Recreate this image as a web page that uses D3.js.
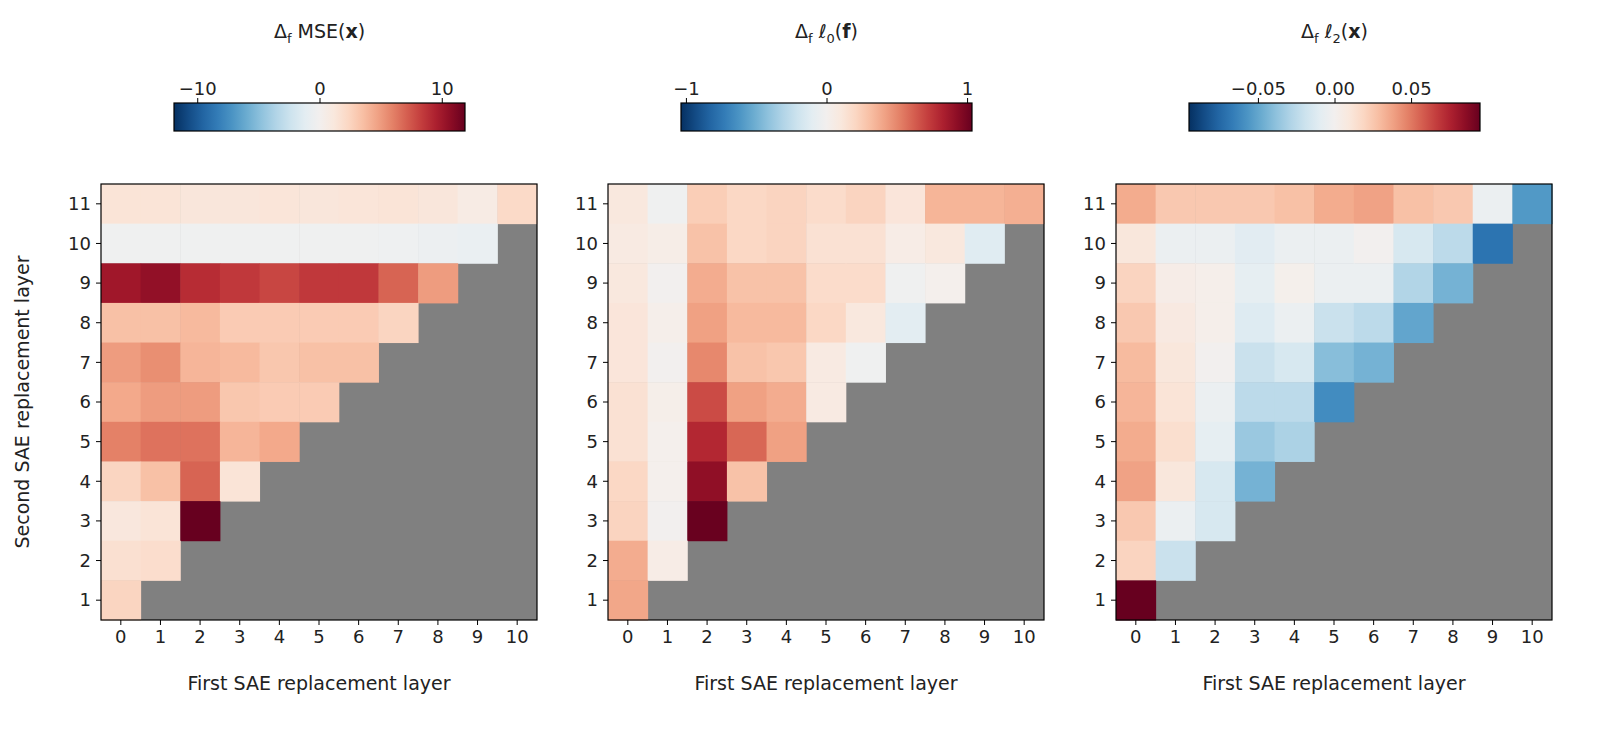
<!DOCTYPE html>
<html><head><meta charset="utf-8">
<script src="https://cdn.jsdelivr.net/npm/d3@7"></script>
<style>body{margin:0;background:#fff}text{font-family:"DejaVu Sans",sans-serif;fill:#222}</style>
</head><body><svg id="c" width="1600" height="729"></svg>
<script>
// rows listed from second layer 11 down to 1; entry i = first layer i
var firstLayers = [0,1,2,3,4,5,6,7,8,9,10];
var secondLayers = [1,2,3,4,5,6,7,8,9,10,11];

var mseRows = [
  [1.5,1.5,1.3,1.3,1.4,1.3,1.4,1.5,1.3,0.8,2.2],
  [-0.3,-0.3,-0.3,-0.3,-0.3,-0.3,-0.3,-0.4,-0.5,-0.7],
  [10,10.5,9,8.5,8,8.5,8.5,7,5],
  [3.5,3.5,3.8,3,3,3,3,2.5],
  [5,5.5,4,3.8,3.2,3.5,3.5],
  [4.5,5,5,3.2,3,3],
  [6,6.5,6.5,4,4.5],
  [2.5,3.5,7,1.5],
  [1.2,1.5,12],
  [1.8,2],
  [2.5]
];
var l0Rows = [
  [0.1,-0.02,0.25,0.2,0.22,0.18,0.22,0.12,0.35,0.35,0.37],
  [0.08,0.05,0.3,0.2,0.22,0.15,0.15,0.06,0.1,-0.12],
  [0.1,0.0,0.38,0.3,0.3,0.18,0.18,-0.02,0.02],
  [0.12,0.03,0.42,0.33,0.33,0.2,0.1,-0.1],
  [0.12,0.0,0.5,0.3,0.28,0.08,-0.02],
  [0.15,0.04,0.68,0.42,0.38,0.08],
  [0.15,0.02,0.8,0.6,0.42],
  [0.2,0.02,0.92,0.3],
  [0.22,0.0,1.03],
  [0.38,0.06],
  [0.4]
];
var l2Rows = [
  [0.035,0.025,0.025,0.025,0.028,0.035,0.038,0.028,0.025,-0.005,-0.055],
  [0.01,-0.005,-0.005,-0.01,-0.005,-0.005,0.0,-0.015,-0.025,-0.07],
  [0.02,0.005,0.003,-0.008,0.002,-0.005,-0.005,-0.028,-0.045],
  [0.025,0.008,0.003,-0.012,-0.005,-0.02,-0.025,-0.05],
  [0.03,0.01,0.0,-0.02,-0.015,-0.04,-0.045],
  [0.032,0.012,-0.005,-0.025,-0.025,-0.06],
  [0.035,0.015,-0.008,-0.035,-0.03],
  [0.038,0.01,-0.015,-0.045],
  [0.025,-0.005,-0.015],
  [0.02,-0.02],
  [0.095]
];

var panels = [
  {x0:101, rows:mseRows, vmax:11.9, ticks:[-10,0,10], fmt:d3.format("d")},
  {x0:608, rows:l0Rows, vmax:1.035, ticks:[-1,0,1], fmt:d3.format("d")},
  {x0:1116, rows:l2Rows, vmax:0.095, ticks:[-0.05,0,0.05], fmt:d3.format(".2f")}
];

var svg = d3.select("#c");
var size = 436, topY = 184;
var cmap = function(t){ return d3.interpolateRdBu(1 - t); };

panels.forEach(function(p, pi) {
  var g = svg.append("g").attr("transform", "translate(" + p.x0 + "," + topY + ")");
  var x = d3.scaleBand().domain(firstLayers).range([0, size]);
  var y = d3.scaleBand().domain(secondLayers.slice().reverse()).range([0, size]);
  var color = d3.scaleLinear().domain([-p.vmax, p.vmax]).range([0, 1]).clamp(true);

  g.append("rect").attr("width", size).attr("height", size).attr("fill", "#808080");
  var cells = [];
  p.rows.forEach(function(r, ri) {
    var s = 11 - ri;
    r.forEach(function(v, f) { cells.push({f:f, s:s, v:v}); });
  });
  g.selectAll("rect.cell").data(cells).enter().append("rect")
    .attr("x", function(d){ return x(d.f); }).attr("y", function(d){ return y(d.s); })
    .attr("width", x.bandwidth() + 0.5).attr("height", y.bandwidth() + 0.5)
    .attr("fill", function(d){ return cmap(color(d.v)); });
  g.append("rect").attr("width", size).attr("height", size).attr("fill", "none").attr("stroke", "#000").attr("stroke-width", 1.2);

  var xa = g.append("g").attr("transform", "translate(0," + size + ")").call(d3.axisBottom(x).tickSizeOuter(0).tickSize(5).tickPadding(5));
  xa.select(".domain").remove();
  xa.selectAll("text").style("font-size", "18px");
  g.append("text").attr("x", size/2).attr("y", size + 70).attr("text-anchor", "middle").style("font-size", "19px").text("First SAE replacement layer");

  var ya = g.append("g").call(d3.axisLeft(y).tickSizeOuter(0).tickSize(5).tickPadding(5));
  ya.select(".domain").remove();
  ya.selectAll("text").style("font-size", "18px").attr("dy", "0.35em");
  if (pi === 0) {
    g.append("text").attr("transform", "translate(-72," + size/2 + ") rotate(-90)").attr("text-anchor", "middle").style("font-size", "19px").text("Second SAE replacement layer");
  }

  // colorbar
  var cbx = p.x0 + 73, cbw = 291, cby = 103, cbh = 28;
  var id = "grad" + pi;
  var grad = svg.append("defs").append("linearGradient").attr("id", id);
  d3.range(0, 1.001, 0.05).forEach(function(t) {
    grad.append("stop").attr("offset", t).attr("stop-color", cmap(t));
  });
  svg.append("rect").attr("x", cbx).attr("y", cby).attr("width", cbw).attr("height", cbh)
    .attr("fill", "url(#" + id + ")").attr("stroke", "#000").attr("stroke-width", 1.2);
  var cs = d3.scaleLinear().domain([-p.vmax, p.vmax]).range([cbx, cbx + cbw]);
  var ca = svg.append("g").attr("transform", "translate(0," + cby + ")")
    .call(d3.axisTop(cs).tickValues(p.ticks).tickFormat(function(d){ return d === 0 && pi === 2 ? "0.00" : (d < 0 ? "\u2212" + p.fmt(-d) : p.fmt(d)); }).tickSize(5).tickSizeOuter(0));
  ca.select(".domain").remove();
  ca.selectAll("text").style("font-size", "18px");

  var t = svg.append("text").attr("x", cbx + cbw/2).attr("y", 38).attr("text-anchor", "middle").style("font-size", "19px");
  t.append("tspan").text("Δ");
  t.append("tspan").attr("dy", 5).style("font-size", "13px").text("f");
  if (pi === 0) {
    t.append("tspan").attr("dy", -5).text(" MSE(");
    t.append("tspan").style("font-weight", "bold").text("x");
    t.append("tspan").text(")");
  } else {
    t.append("tspan").attr("dy", -5).style("font-style", "italic").text(" ℓ");
    t.append("tspan").attr("dy", 5).style("font-size", "13px").text(pi === 1 ? "0" : "2");
    t.append("tspan").attr("dy", -5).text("(");
    t.append("tspan").style("font-weight", "bold").text(pi === 1 ? "f" : "x");
    t.append("tspan").text(")");
  }
});
</script></body></html>
